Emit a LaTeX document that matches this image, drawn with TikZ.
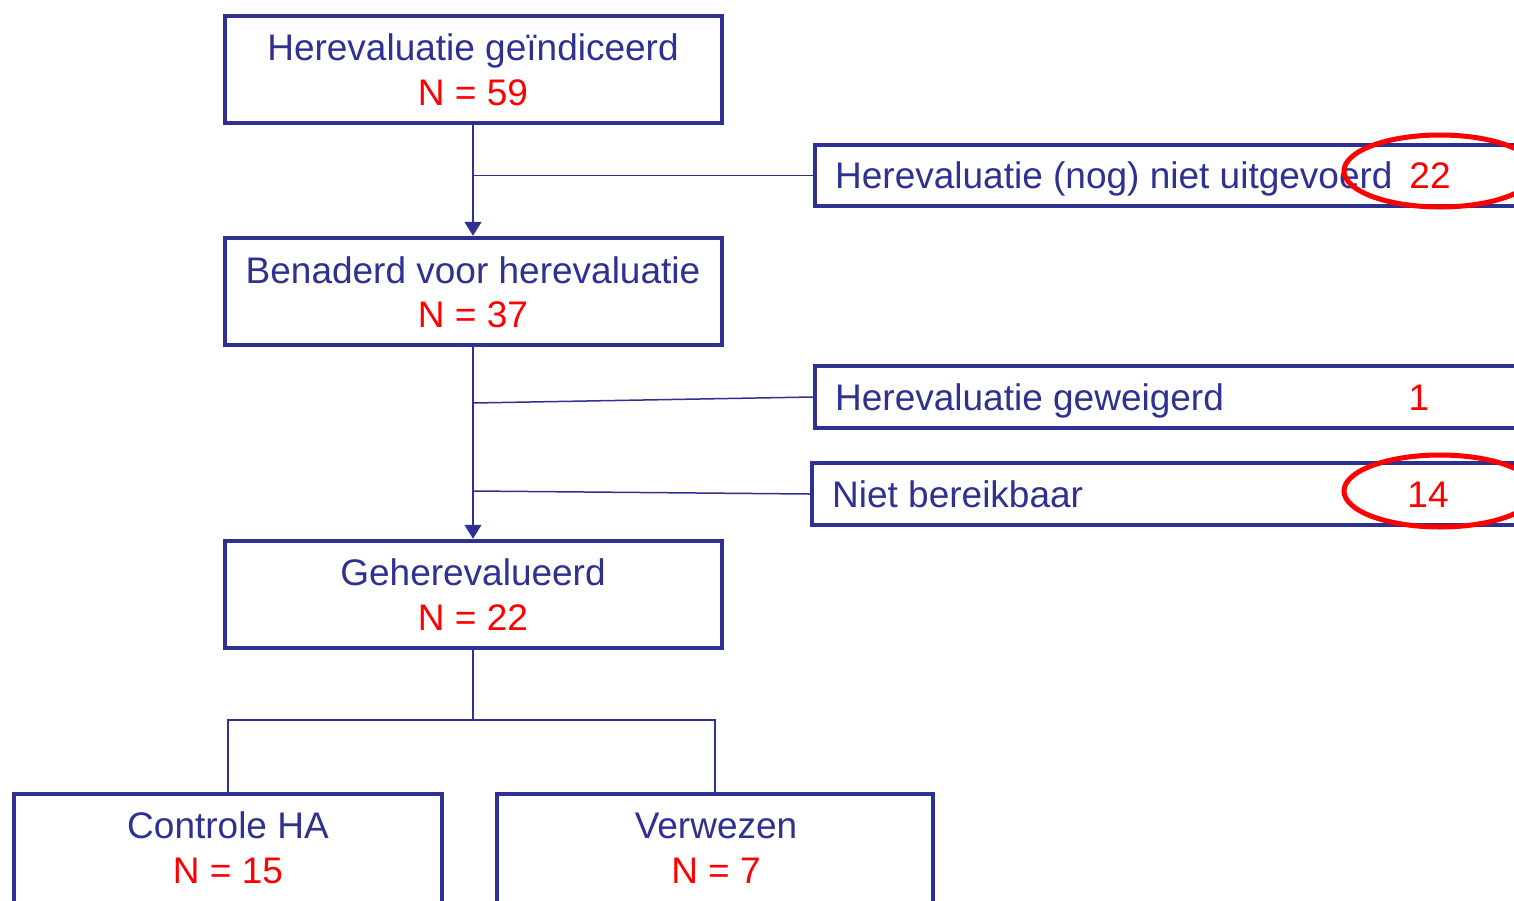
\documentclass[tikz,border=0pt]{standalone}
\usepackage{fontspec}
\setmainfont{Liberation Sans}
\usetikzlibrary{arrows.meta}
\definecolor{navy}{RGB}{46,49,146}
\definecolor{myred}{RGB}{255,0,0}
\begin{document}
\begin{tikzpicture}[x=1pt,y=-1pt,
  box/.style={draw=navy,line width=4.5pt,inner sep=0pt,rectangle},
  txt/.style={text=navy,font=\fontsize{37}{45}\selectfont,inner sep=0pt,anchor=base},
  num/.style={text=myred,font=\fontsize{37}{45}\selectfont,inner sep=0pt,anchor=base},
  conn/.style={draw=navy,line width=1.5pt},
  arr/.style={conn,-{Triangle[width=17pt,length=14pt]}},
  ring/.style={draw=myred,line width=5pt}]
\useasboundingbox (0,0) rectangle (1514,900);
\clip (0,0) rectangle (1514,900);
\fill[white] (0,0) rectangle (1514,900);
% main boxes
\node[box,minimum width=497pt,minimum height=107pt] (b1) at (473.5,69.5) {};
\node[box,minimum width=497pt,minimum height=107pt] (b2) at (473.5,291.5) {};
\node[box,minimum width=497pt,minimum height=107pt] (b3) at (473.5,594.5) {};
\node[box,minimum width=428pt,minimum height=166pt] (b4) at (228,877) {};
\node[box,minimum width=436pt,minimum height=166pt] (b5) at (715,877) {};
% side boxes
\node[box,minimum width=805pt,minimum height=61pt] (sA) at (1217.5,175.5) {};
\node[box,minimum width=805pt,minimum height=62pt] (sB) at (1217.5,397) {};
\node[box,minimum width=808pt,minimum height=62pt] (sC) at (1216,494) {};
% texts
\node[txt] (t1a) at (473,60) {Herevaluatie geïndiceerd};
\node[num] (t1b) at (473,105) {N = 59};
\node[txt] (t2a) at (473,283) {Benaderd voor herevaluatie};
\node[num] (t2b) at (473,327) {N = 37};
\node[txt] (t3a) at (473,585) {Geherevalueerd};
\node[num] (t3b) at (473,630) {N = 22};
\node[txt] (t4a) at (228,838) {Controle HA};
\node[num] (t4b) at (228,883) {N = 15};
\node[txt] (t5a) at (716,838) {Verwezen};
\node[num] (t5b) at (716,883) {N = 7};
\node[txt,anchor=base west] (tA) at (835,188) {Herevaluatie (nog) niet uitgevoerd};
\node[num] (nA) at (1430,188) {22};
\node[txt,anchor=base west] (tB) at (835,410) {Herevaluatie geweigerd};
\node[num] (nB) at (1419,410) {1};
\node[txt,anchor=base west] (tC) at (832,507) {Niet bereikbaar};
\node[num] (nC) at (1428,507) {14};
% connectors
\coordinate (j1) at (473,175.5);
\coordinate (j2) at (473,403);
\coordinate (j3) at (473,491);
\coordinate (j4) at (473,720);
\draw[arr] (b1.south -| j1) -- (b2.north -| j1);
\draw[conn] (j1) -- (sA.west);
\draw[arr] (b2.south -| j1) -- (b3.north -| j1);
\draw[conn] (j2) -- (sB.west);
\draw[conn] (j3) -- (sC.west);
\draw[conn] (b3.south -| j4) -- (j4);
\draw[conn] (b4.north) |- (j4) -| (b5.north);
% red rings
\draw[ring] (1440,171) ellipse [x radius=96pt, y radius=36pt];
\draw[ring] (1440,491) ellipse [x radius=96pt, y radius=36pt];
\end{tikzpicture}
\end{document}
